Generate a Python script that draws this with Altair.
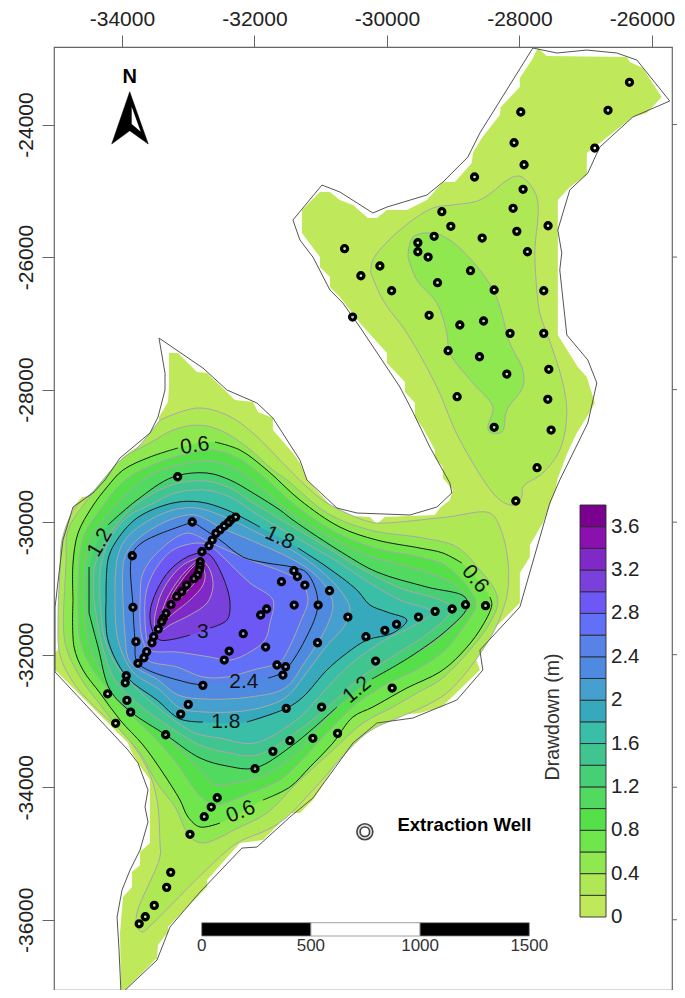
import altair as alt
import pandas as pd

# ---------- map frame and ticks (map metres) ----------
x_domain = [-35026, -25696]
y_domain = [-37060, -22830]
x_ticks = [-34000, -32000, -30000, -28000, -26000]
y_ticks = [-24000, -26000, -28000, -30000, -32000, -34000, -36000]

# ---------- study-area outline ----------
outline = [(-34014,-37120),(-34044,-36457),(-34074,-35959),(-33999,-35551),(-33878,-35250),(-33727,-34948),(-33607,-34525),(-33652,-34299),(-33607,-34042),(-33758,-33635),(-33909,-33439),(-35010,-32261),(-35010,-31281),(-34890,-30269),(-34739,-29772),(-34437,-29560),(-34256,-29364),(-34030,-29032),(-33577,-28655),(-33456,-28414),(-33350,-28006),(-33350,-27750),(-33441,-27222),(-32777,-27675),(-32415,-28006),(-31962,-28202),(-31721,-28429),(-31313,-29063),(-31207,-29364),(-30754,-29787),(-30452,-29862),(-29653,-29892),(-29246,-29772),(-29020,-29560),(-29050,-29409),(-29352,-28866),(-29623,-28308),(-29804,-27961),(-30106,-27508),(-30408,-27056),(-30665,-26694),(-30860,-26497),(-31117,-26000),(-31313,-25743),(-31419,-25441),(-30981,-24913),(-30710,-25018),(-30212,-25335),(-30000,-25245),(-29397,-25064),(-29155,-24868),(-28778,-24491),(-28597,-24128),(-27797,-22845),(-27435,-22921),(-26982,-22876),(-26529,-22921),(-26227,-23026),(-25730,-23645),(-26288,-23887),(-26786,-24340),(-26967,-24732),(-27239,-24988),(-27420,-25592),(-27360,-25939),(-27390,-26195),(-27284,-27176),(-26967,-27553),(-26831,-27900),(-26967,-28504),(-27390,-29364),(-27541,-29711),(-27993,-31281),(-28597,-31930),(-28552,-32232),(-28944,-32684),(-29608,-32956),(-30151,-33031),(-30513,-33333),(-31117,-34163),(-31464,-34450),(-31962,-34903),(-32188,-34918),(-32822,-35582),(-33275,-36110),(-33471,-36608),(-34014,-37120)]

# ---------- drawdown contours (None = gap for an inline label) ----------
c00 = [(-34014,-37120),(-33471,-36578),(-33456,-36381),(-33305,-36185),(-33305,-36110),(-32716,-35507),(-32716,-35400),(-32218,-34842),(-31871,-34797),(-31464,-34389),(-31313,-34389),(-31117,-34193),(-30710,-33560),(-30710,-33484),(-30302,-33031),(-30106,-32941),(-29503,-32880),(-29171,-32790),(-28597,-32232),(-28703,-31930),(-27993,-31220),(-27993,-30768),(-27842,-30527),(-27842,-30345),(-27646,-30013),(-27465,-29545),(-27420,-29334),(-27269,-28942),(-27133,-28655),(-26982,-28414),(-26861,-28202),(-26982,-27810),(-27118,-27659),(-27420,-27176),(-27420,-25139),(-27239,-24943),(-26982,-24762),(-26982,-24430),(-26786,-24279),(-26288,-23887),(-26077,-23826),(-25851,-23585),(-26137,-23147),(-26333,-23057),(-26378,-22981),(-27586,-22966),(-27722,-22845),(-27812,-23026),(-27993,-23298),(-27993,-23434),(-28280,-23736),(-28295,-23856),(-28567,-24203),(-28703,-24430),(-28718,-24581),(-28974,-24868),(-29155,-24868),(-29397,-25139),(-29699,-25290),(-30000,-25290),(-30151,-25411),(-30287,-25411),(-30513,-25214),(-30710,-25139),(-30860,-25018),(-31011,-25018),(-31283,-25290),(-31283,-25637),(-31011,-26000),(-31011,-26150),(-30860,-26301),(-30860,-26452),(-30710,-26603),(-30408,-26995),(-30000,-27448),(-30000,-27599),(-29728,-27885),(-29728,-28036),(-29578,-28202),(-29578,-28414),(-29457,-28580),(-29276,-28912),(-29276,-29033),(-29155,-29168),(-29155,-29334),(-29004,-29515),(-29050,-29666),(-29201,-29787),(-29276,-29892),(-30031,-29923),(-30151,-30028),(-30257,-29923),(-30710,-29892),(-31207,-29364),(-31313,-29108),(-31419,-28957),(-31721,-28610),(-31721,-28429),(-31947,-28338),(-32022,-28187),(-32294,-28157),(-32716,-27750),(-32867,-27735),(-33154,-27448),(-33290,-27448),(-33290,-27961),(-33305,-28187),(-33441,-28414),(-33441,-28610),(-33577,-28761),(-33848,-28912),(-33999,-29032),(-33999,-29244),(-34286,-29470),(-34407,-29590),(-34603,-29620),(-34739,-29772),(-34739,-29968),(-34859,-30225),(-34890,-31824),(-35010,-31975),(-35010,-32231),(-33909,-33333),(-33848,-33484),(-33758,-33635),(-33577,-33892),(-33577,-34842),(-33727,-34978),(-33727,-35174),(-33848,-35280),(-33848,-35506),(-33984,-35657),(-34029,-36200)]
c02n = [(-30242,-26240),(-30061,-26648),(-29699,-27146),(-29246,-27961),(-28899,-28761),(-28295,-29666),(-28068,-29741),(-27963,-29621),(-27948,-29470),(-27646,-29259),(-27390,-28912),(-27284,-28353),(-27344,-27900),(-27495,-27403),(-27692,-26844),(-27737,-26497),(-27767,-25939),(-27737,-25094),(-27963,-24792),(-28099,-24792),(-28597,-25139),(-29004,-25214),(-29306,-25260),(-29804,-25592),(-30212,-26044)]
c02s = [(-33426,-28459),(-32867,-28278),(-32415,-28384),(-32022,-28655),(-31615,-29063),(-31207,-29470),(-30905,-29711),(-30257,-29998),(-30031,-30013),(-29095,-29923),(-28446,-29862),(-28295,-30074),(-28174,-30572),(-28174,-31024),(-28249,-31326),(-28400,-31673),(-28717,-32156),(-29095,-32579),(-29457,-32790),(-29804,-32941),(-30302,-33182),(-31117,-34042),(-31508,-34450),(-31811,-34646),(-32264,-34842),(-32777,-35295),(-33079,-35596),(-33531,-36049),(-33697,-36185),(-33773,-36110),(-33773,-35898),(-33426,-35053),(-33426,-34842),(-33471,-34193),(-33607,-33741),(-33954,-33212),(-34331,-32865),(-34709,-32458),(-34935,-32005),(-34965,-31477),(-34935,-30722),(-34905,-30270),(-34709,-29787),(-34407,-29515),(-34030,-29138),(-33727,-28836)]
c04n = [(-29683,-26000),(-29608,-25697),(-29306,-25637),(-29050,-25743),(-28597,-26195),(-28340,-26618),(-28144,-27297),(-27948,-27704),(-27948,-27961),(-28189,-28308),(-28265,-28640),(-28446,-28640),(-28476,-28565),(-28401,-28263),(-28703,-27900),(-29050,-27448),(-29095,-27146),(-29246,-26693),(-29548,-26346)]
c04s = [(-34874,-31175),(-34844,-30617),(-34814,-30119),(-34558,-29711),(-34226,-29289),(-33984,-29032),(-33577,-28806),(-33229,-28610),(-32867,-28535),(-32520,-28610),(-32113,-28866),(-31721,-29214),(-31509,-29364),(-30905,-29862),(-30257,-30119),(-29457,-30239),(-28944,-30375),(-28597,-30722),(-28370,-31024),(-28325,-31220),(-28446,-31522),(-28748,-31930),(-29200,-32382),(-29547,-32579),(-29910,-32790),(-30362,-33031),(-30815,-33439),(-31358,-33937),(-31811,-34389),(-32218,-34600),(-32777,-34842),(-32973,-34751),(-33199,-34299),(-33471,-33937),(-33727,-33484),(-34029,-33137),(-34301,-32790),(-34633,-32337),(-34859,-31824)]
c06 = [(-34739,-31175),(-34739,-30617),(-34663,-30164),(-34452,-29772),(-34225,-29470),(-33984,-29214),(-33577,-29017),(-33154,-28881),None,(-32596,-28791),(-32218,-28912),(-31811,-29214),(-31313,-29666),(-30710,-30074),(-30152,-30270),(-29503,-30391),(-29155,-30466),(-28868,-30617),None,(-28446,-31130),(-28416,-31250),(-28597,-31628),(-28899,-32005),(-29200,-32261),(-29698,-32503),(-30212,-32790),(-30514,-32941),(-30815,-33333),(-31162,-33695),(-31464,-33997),(-31871,-34193),None,(-32520,-34540),(-32822,-34600),(-33003,-34449),(-33124,-34193),(-33380,-33786),(-33682,-33363),(-34029,-32986),(-34331,-32579),(-34588,-32232),(-34723,-31885)]
c08 = [(-34663,-31175),(-34648,-30647),(-34573,-30194),(-34331,-29817),(-34105,-29515),(-33848,-29289),(-33501,-29123),(-33154,-29002),(-32641,-28912),(-32248,-29032),(-31841,-29334),(-31389,-29741),(-30785,-30149),(-30181,-30391),(-29503,-30526),(-29125,-30647),(-28748,-31024),(-28657,-31250),(-28823,-31552),(-29125,-31930),(-29503,-32201),(-30031,-32458),(-30484,-32760),(-30936,-33212),(-31313,-33619),(-31615,-33891),(-32068,-34087),(-32596,-34269),(-32747,-34193),(-32898,-34042),(-33154,-33665),(-33501,-33258),(-33909,-32865),(-34226,-32503),(-34482,-32156),(-34633,-31778)]
c10 = [(-34573,-31175),(-34558,-30647),(-34452,-30194),(-34256,-29938),(-33954,-29591),(-33577,-29289),(-33154,-29138),(-32671,-29078),(-32294,-29183),(-31886,-29485),(-31464,-29847),(-30785,-30270),(-30181,-30541),(-29503,-30722),(-28974,-30949),(-28733,-31220),(-28899,-31477),(-29352,-31854),(-29879,-32156),(-30408,-32503),(-30860,-32910),(-31389,-33514),(-31841,-33816),(-32294,-33937),(-32596,-33967),(-32747,-33816),(-33048,-33514),(-33426,-33137),(-33803,-32805),(-34150,-32458),(-34406,-32081),(-34527,-31703)]
c12 = [(-34497,-31371),(-34497,-30677),None,(-34211,-30043),(-33773,-29666),(-33230,-29319),(-32716,-29259),(-32369,-29364),(-32022,-29560),(-31615,-29817),(-31419,-29968),(-30664,-30466),(-30151,-30753),(-29397,-30979),(-28823,-31130),(-28793,-31296),(-29095,-31628),(-29653,-32035),(-30226,-32367),None,(-30755,-32790),(-31419,-33363),(-31992,-33710),(-32415,-33680),(-32822,-33559),(-33335,-33212),(-33863,-32865),(-34180,-32533),(-34361,-31884)]
c14 = [(-34422,-31175),(-34406,-30647),(-34241,-30270),(-33954,-29892),(-33652,-29636),(-33199,-29425),(-32746,-29379),(-32369,-29485),(-32022,-29711),(-31539,-29998),(-31011,-30315),(-30408,-30692),(-29804,-30994),(-29200,-31175),(-29019,-31296),(-29276,-31598),(-29880,-32005),(-30408,-32352),(-30860,-32760),(-31389,-33182),(-31962,-33514),(-32445,-33469),(-32822,-33363),(-33275,-33092),(-33773,-32730),(-34105,-32382),(-34301,-31854)]
c16 = [(-34331,-31175),(-34316,-30647),(-34150,-30194),(-33878,-29892),(-33577,-29741),(-33199,-29560),(-32746,-29515),(-32369,-29621),(-31947,-29892),(-31389,-30225),(-30785,-30571),(-30257,-30919),(-29804,-31175),(-29321,-31356),(-29578,-31552),(-30031,-31779),(-30528,-32126),(-30936,-32533),(-31313,-32941),(-31992,-33333),(-32520,-33258),(-32897,-33182),(-33275,-32941),(-33727,-32564),(-34059,-32202),(-34256,-31779)]
c18 = [(-34240,-31175),(-34211,-30571),(-34105,-30315),(-33773,-29938),(-33230,-29711),(-32822,-29696),(-32415,-29817),(-31917,-30074),None,(-31343,-30390),(-30905,-30677),(-30453,-31024),(-30257,-31250),(-30000,-31356),(-29699,-31477),(-29909,-31673),(-30302,-31779),(-30604,-31975),(-30905,-32231),(-31268,-32639),(-31509,-32805),(-32113,-33016),None,(-32777,-33016),(-33124,-32971),(-33471,-32684),(-33924,-32337),(-34211,-31779)]
c20 = [(-34105,-31175),(-34075,-30571),(-33954,-30270),(-33682,-30028),(-33230,-29817),(-32867,-29787),(-32445,-29923),(-31947,-30164),(-31389,-30451),(-31011,-30722),(-30710,-31024),(-30559,-31296),(-30634,-31552),(-30936,-31900),(-31238,-32307),(-31539,-32654),(-32068,-32835),(-32747,-32865),(-33124,-32805),(-33426,-32533),(-33833,-32262),(-34059,-31779)]
c22 = [(-33984,-31175),(-33969,-30571),(-33848,-30345),(-33577,-30119),(-33199,-29938),(-32898,-29892),(-32490,-30089),(-31992,-30300),(-31464,-30541),(-31132,-30752),(-30890,-31024),(-30815,-31266),(-30936,-31628),(-31238,-32110),(-31539,-32503),(-32068,-32639),(-32747,-32669),(-33154,-32609),(-33456,-32382),(-33878,-32111),(-33954,-31703)]
c24 = [(-32927,-29998),(-32520,-30270),(-32173,-30526),(-31811,-30617),(-31434,-30677),(-31207,-30768),(-31041,-31220),(-31238,-31779),(-31570,-32262),(-31796,-32352),None,(-32777,-32458),(-33048,-32412),(-33758,-32126),(-33803,-31779),(-33833,-31281),(-33848,-30496),(-33682,-30300)]
c26 = [(-32746,-30270),(-32520,-30375),(-32068,-30571),(-31570,-30752),(-31283,-30918),(-31192,-31175),(-31313,-31522),(-31494,-31930),(-31615,-32111),(-32022,-32231),(-32415,-32337),(-32777,-32337),(-33169,-32186),(-33607,-32081),(-33652,-31884),(-33712,-31673),(-33727,-31175),(-33682,-30768),(-33426,-30421),(-33018,-30164)]
c28 = [(-32671,-30345),(-32475,-30526),(-32068,-30918),(-31721,-31175),(-31766,-31522),(-31841,-31779),(-32068,-31960),(-32369,-32081),(-32671,-32035),(-33169,-31960),(-33577,-31930),(-33622,-31779),(-33652,-31477),(-33637,-31070),(-33501,-30722),(-33230,-30421),(-32867,-30315)]
c30 = [(-32792,-30451),(-32671,-30496),(-32475,-30828),(-32369,-31220),(-32415,-31477),(-32671,-31598),None,(-32973,-31703),(-33426,-31779),(-33531,-31658),(-33577,-31371),(-33471,-31024),(-33275,-30722),(-33018,-30526)]
c32 = [(-32822,-30526),(-32671,-30722),(-32626,-30979),(-32716,-31220),(-32973,-31401),(-33275,-31552),(-33396,-31628),(-33501,-31582),(-33456,-31220),(-33320,-30918),(-33079,-30647)]
c34 = [(-32852,-30571),(-32747,-30768),(-32777,-30949),(-32973,-31175),(-33199,-31356),(-33350,-31477),(-33426,-31522),(-33350,-31220),(-33229,-30994),(-33048,-30752)]
c36 = [(-32837,-30601),(-32822,-30798),(-32973,-30994),(-33169,-31175),(-33244,-31130),(-33094,-30873),(-32928,-30677)]

# ---------- colour ramp, one colour per 0.2 m band ----------
band_low = [0.0,0.2,0.4,0.6,0.8,1.0,1.2,1.4,1.6,1.8,2.0,2.2,2.4,2.6,2.8,3.0,3.2,3.4,3.6]
band_colors = ["#bfe95a","#aee955","#8fe850","#6ee64c","#55e04a","#52d960","#47cf75","#40c490","#3abea8","#36a9bd","#459fcf","#4e8adf","#5882e8","#6270f8","#6e58f5","#7a40dc","#8028c8","#8a10b0","#7a0090"]
color_of = dict(zip(band_low, band_colors))
black_levels = {0.6, 1.2, 1.8, 2.4, 3.0}
contours = [(0.0,c00),(0.2,c02n),(0.2,c02s),(0.4,c04n),(0.4,c04s),(0.6,c06),(0.8,c08),(1.0,c10),(1.2,c12),(1.4,c14),(1.6,c16),(1.8,c18),(2.0,c20),(2.2,c22),(2.4,c24),(2.6,c26),(2.8,c28),(3.0,c30),(3.2,c32),(3.4,c34),(3.6,c36)]

# ---------- wells ----------
wells = [(-26338,-23363),(-26662,-23785),(-26862,-24355),(-27979,-23811),(-28080,-24275),(-27929,-24607),(-28677,-24792),(-27944,-24977),(-28095,-25264),(-29171,-25315),(-29035,-25536),(-29287,-25687),(-29533,-25784),(-29533,-25920),(-29378,-26000),(-28562,-25713),(-28039,-25612),(-27878,-25920),(-27567,-25527),(-30639,-25874),(-30106,-26135),(-30393,-26282),(-28738,-26206),(-29236,-26387),(-28381,-26497),(-27632,-26508),(-29929,-26508),(-30518,-26905),(-29363,-26879),(-28899,-27025),(-28541,-26965),(-28141,-27151),(-27632,-27151),(-29076,-27414),(-28602,-27504),(-28190,-27765),(-27556,-27694),(-28940,-28107),(-27571,-28146),(-28381,-28569),(-27521,-28610),(-27733,-29178),(-28054,-29681),
(-33159,-29315),(-32939,-29998),(-33844,-30507),(-32284,-29923),(-32359,-29968),(-32395,-30008),(-32456,-30058),(-32521,-30118),(-32581,-30168),(-32637,-30270),(-32687,-30356),(-32793,-30447),(-32819,-30598),(-32823,-30663),(-32833,-30723),(-32858,-30799),(-32914,-30853),(-33024,-30949),(-33098,-31050),(-33174,-31125),(-33260,-31246),(-33335,-31376),(-33376,-31451),(-33400,-31502),(-33451,-31613),(-33521,-31729),(-33547,-31820),(-33627,-31955),(-33668,-32046),(-33758,-32130),(-33834,-31285),(-33789,-31803),
(-31405,-30733),(-31352,-30821),(-31592,-30899),(-31239,-30949),(-30866,-31035),(-31400,-31251),(-31038,-31251),(-31816,-31311),(-31906,-31401),(-30589,-31432),(-29855,-31542),(-30031,-31633),(-30317,-31729),(-29523,-31432),(-29272,-31346),(-29015,-31311),(-28813,-31246),(-28511,-31261),(-31047,-31820),(-31831,-31885),(-30171,-32096),(-31660,-32156),(-31529,-32182),(-31570,-32307),(-29921,-32504),(-30986,-32790),(-31520,-32810),(-30745,-33187),(-31118,-33262),(-31464,-33298),
(-32169,-31683),(-32381,-31945),(-32456,-32081),(-33935,-32318),(-33950,-32424),(-34216,-32590),(-33925,-32690),(-33869,-32867),(-34095,-33036),(-32778,-32463),(-32999,-32750),(-33113,-32897),(-33340,-33208),(-31721,-33459),(-31992,-33720),(-32562,-34159),(-32652,-34299),(-32758,-34445),(-32973,-34711),(-33264,-35285),(-33325,-35511),(-33512,-35783),(-33648,-35955),(-33740,-36061)]
extraction_well = (-30333, -34672)

# ---------- inline contour labels: text, x, y, angle ----------
contour_labels = [("0.6",-32900,-28850,352),("1.2",-34330,-30310,300),("1.8",-31620,-30240,25),("0.6",-28670,-30860,50),("1.2",-30450,-32535,320),("1.8",-32430,-33016,0),("2.4",-32160,-32412,0),("3",-32780,-31655,0),("0.6",-32205,-34375,338)]

# ---------- north arrow ----------
arrow_outer = [(-33883,-23505),(-33603,-24294),(-33883,-24094),(-34155,-24294)]
arrow_inner = [(-33853,-23731),(-33717,-24109),(-33853,-23992)]
north_label = (-33883, -23290)

# ---------- colour bar and scale bar ----------
bar_labels = [0,0.4,0.8,1.2,1.6,2,2.4,2.8,3.2,3.6]
scale_marks = [0,500,1000,1500]
scale_segments = [(0,500,"#000000"),(500,1000,"#ffffff"),(1000,1500,"#000000")]

FONT = "Liberation Sans"
X = alt.X("x:Q", scale=alt.Scale(domain=x_domain, nice=False, zero=False), axis=None)
Y = alt.Y("y:Q", scale=alt.Scale(domain=y_domain, nice=False, zero=False), axis=None)

def clean(pts):
    return [p for p in pts if p is not None]

def frame(pts):
    pts = clean(pts)
    pts = pts + pts[:1]
    return pd.DataFrame({"x":[p[0] for p in pts], "y":[p[1] for p in pts], "i":range(len(pts))})

def seg_frame(pts):
    pts = pts + pts[:1]
    rows, seg, i = [], 0, 0
    for p in pts:
        if p is None:
            seg += 1
            continue
        rows.append({"x":p[0], "y":p[1], "i":i, "s":seg})
        i += 1
    return pd.DataFrame(rows)

axes_layer = alt.Chart(pd.DataFrame({"x":x_domain, "y":y_domain})).mark_point(opacity=0).encode(
    x=alt.X("x:Q", scale=alt.Scale(domain=x_domain, nice=False, zero=False),
            axis=alt.Axis(orient="top", values=x_ticks, title=None, grid=False, domain=False, tickSize=12,
                          tickColor="#666666", labelFont=FONT, labelFontSize=21, labelColor="#222222",
                          labelPadding=6, labelExpr="''+datum.value", labelOverlap=False, labelFlush=False,
                          labelOffset={"condition":{"test":"datum.value === -26000","value":-10},"value":0})),
    y=alt.Y("y:Q", scale=alt.Scale(domain=y_domain, nice=False, zero=False),
            axis=alt.Axis(orient="left", values=y_ticks, title=None, grid=False, domain=False, tickSize=12,
                          tickColor="#666666", labelFont=FONT, labelFontSize=21, labelColor="#222222",
                          labelAngle=270, labelAlign="center", labelBaseline="bottom",
                          labelPadding=6, labelExpr="''+datum.value", labelOverlap=False, labelFlush=False)),
)

layers = []
for lev, pts in contours:
    plain = lev in black_levels or lev == 0.0
    smooth = "linear" if lev == 0.0 else "catmull-rom"
    layers.append(alt.Chart(frame(pts)).mark_line(
        fill=color_of[lev], stroke="transparent" if plain else "#a8a8a8", strokeWidth=1, interpolate=smooth
    ).encode(x=X, y=Y, order="i:Q"))
for lev, pts in contours:
    if lev in black_levels:
        layers.append(alt.Chart(seg_frame(pts)).mark_line(stroke="#1a1a1a", strokeWidth=1, interpolate="catmull-rom").encode(
            x=X, y=Y, order="i:Q", detail="s:N"))

layers.append(alt.Chart(frame(outline)).mark_line(stroke="#555555", strokeWidth=1).encode(x=X, y=Y, order="i:Q"))

layers.append(alt.Chart(pd.DataFrame(wells, columns=["x","y"])).mark_point(
    shape="circle", size=36, fill="#ffffff", fillOpacity=0.4, stroke="#000000", strokeWidth=3.3, opacity=1
).encode(x=X, y=Y))

for txt, lx, ly, ang in contour_labels:
    layers.append(alt.Chart(pd.DataFrame({"x":[lx], "y":[ly], "t":[txt]})).mark_text(
        font=FONT, fontSize=21, color="#111111", angle=ang, align="center", baseline="middle"
    ).encode(x=X, y=Y, text="t:N"))

layers.append(alt.Chart(frame(arrow_outer)).mark_line(fill="#000000", stroke="#000000", strokeWidth=0.5).encode(x=X, y=Y, order="i:Q"))
layers.append(alt.Chart(frame(arrow_inner)).mark_line(fill="#ffffff", stroke="transparent").encode(x=X, y=Y, order="i:Q"))
layers.append(alt.Chart(pd.DataFrame({"x":[north_label[0]], "y":[north_label[1]], "t":["N"]})).mark_text(
    font=FONT, fontSize=20, fontWeight="bold", color="#000000", baseline="middle").encode(x=X, y=Y, text="t:N"))

ew = pd.DataFrame({"x":[extraction_well[0]], "y":[extraction_well[1]]})
layers.append(alt.Chart(ew).mark_point(shape="circle", size=256, fill="#dddddd", stroke="#444444", strokeWidth=1.6, opacity=1).encode(x=X, y=Y))
layers.append(alt.Chart(ew).mark_point(shape="circle", size=90, fill="#ffffff", stroke="#444444", strokeWidth=1.6, opacity=1).encode(x=X, y=Y))
layers.append(alt.Chart(pd.DataFrame({"x":[-29842], "y":[-34571], "t":["Extraction Well"]})).mark_text(
    font=FONT, fontSize=18.6, fontWeight="bold", color="#000000", align="left", baseline="middle").encode(x=X, y=Y, text="t:N"))

# outer ticks mirrored on the right of the frame
layers.append(alt.Chart(pd.DataFrame({"y":y_ticks})).mark_rule(stroke="#666666", strokeWidth=1).encode(
    y=Y, x=alt.value(618), x2=alt.value(630)))

map_layer = alt.layer(*layers)

# colour bar with its own value scale
BAR = alt.Scale(domain=[0, 3.8], range=[870, 458], nice=False, zero=False)
bands = pd.DataFrame({"lo":band_low, "hi":[round(v+0.2,1) for v in band_low], "k":[str(v) for v in band_low]})
bar_rects = alt.Chart(bands).mark_rect(stroke="#2a2a2a", strokeWidth=0.9).encode(
    y=alt.Y("lo:Q", scale=BAR, axis=None), y2="hi:Q", x=alt.value(526), x2=alt.value(552),
    fill=alt.Fill("k:N", scale=alt.Scale(domain=[str(v) for v in band_low], range=band_colors), legend=None))
bar_text = alt.Chart(pd.DataFrame({"v":bar_labels, "t":[str(v) for v in bar_labels]})).mark_text(
    font=FONT, fontSize=20.5, color="#222222", align="left", baseline="middle").encode(
    y=alt.Y("v:Q", scale=BAR, axis=None), x=alt.value(557), text="t:N")
bar_title = alt.Chart(pd.DataFrame({"v":[1.0]})).mark_text(
    text="Drawdown (m)", font=FONT, fontSize=19.5, color="#333333", angle=270, align="center", baseline="middle").encode(
    x=alt.value(499), y=alt.value(670))
bar_layer = alt.layer(bar_rects, bar_text, bar_title)

# scale bar with its own distance scale
SB = alt.Scale(domain=[0, 1500], range=[147.7, 475.3], nice=False, zero=False)
sb_rects = alt.Chart(pd.DataFrame(scale_segments, columns=["a","b","c"])).mark_rect(stroke="#888888", strokeWidth=0.8).encode(
    x=alt.X("a:Q", scale=SB, axis=None), x2="b:Q", y=alt.value(875.7), y2=alt.value(889),
    fill=alt.Fill("c:N", scale=None))
sb_text = alt.Chart(pd.DataFrame({"a":scale_marks, "t":[str(v) for v in scale_marks]})).mark_text(
    font=FONT, fontSize=17, color="#333333", align="center", baseline="middle").encode(
    x=alt.X("a:Q", scale=SB, axis=None), y=alt.value(899), text="t:N")
sb_layer = alt.layer(sb_rects, sb_text)

chart = alt.layer(axes_layer, map_layer, bar_layer, sb_layer).resolve_scale(
    x="independent", y="independent", fill="independent"
).properties(
    width=618, height=943,
    autosize=alt.AutoSizeParams(type="none"),
    padding={"left":46, "top":39, "right":5, "bottom":0},
).configure_view(stroke="#666666", strokeWidth=1.2)

chart.save("out.html", embed_options={"renderer": "svg", "actions": False})
